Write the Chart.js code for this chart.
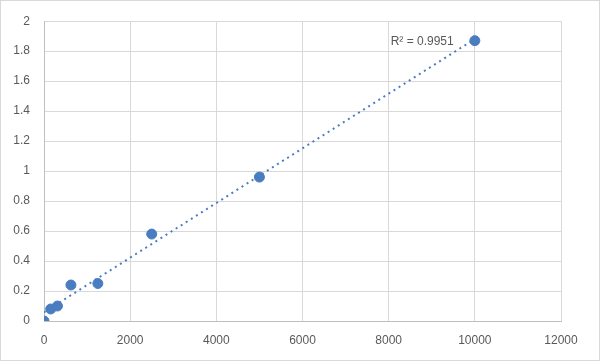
<!DOCTYPE html>
<html><head><meta charset="utf-8">
<script src="https://cdn.jsdelivr.net/npm/chart.js@4"></script>
<style>
html,body{margin:0;padding:0;background:#fff;}
#wrap{position:relative;width:600px;height:361px;box-sizing:border-box;border:1px solid #d9d9d9;}
canvas{position:absolute;left:-1px;top:-1px;}
</style></head>
<body><div id="wrap"><canvas id="c" width="600" height="361"></canvas></div>
<script>
const concentrations = [0, 156, 312, 625, 1250, 2500, 5000, 10000];
const odValues = [0, 0.08, 0.1, 0.24, 0.25, 0.58, 0.96, 1.87];
const xTicks = [0, 2000, 4000, 6000, 8000, 10000, 12000];
const yTicks = [0, 0.2, 0.4, 0.6, 0.8, 1, 1.2, 1.4, 1.6, 1.8, 2];
const r2Label = 'R² = 0.9951';

// least-squares trendline (as the spreadsheet's linear trendline)
const n = concentrations.length;
const mx = concentrations.reduce((a,b)=>a+b,0)/n;
const my = odValues.reduce((a,b)=>a+b,0)/n;
let sxy=0, sxx=0;
for(let i=0;i<n;i++){sxy+=(concentrations[i]-mx)*(odValues[i]-my);sxx+=(concentrations[i]-mx)**2;}
const slope=sxy/sxx, intercept=my-slope*mx;
const xMin = concentrations[0], xMax = concentrations[n-1];
const trend = [{x:xMin,y:intercept+slope*xMin},{x:xMax,y:intercept+slope*xMax}];

const gray='#595959';
const labelPlugin={
  id:'r2',
  afterDatasetsDraw(chart){
    const {ctx,scales}=chart;
    ctx.save();
    ctx.font='12px "Liberation Sans", Arial, sans-serif';
    ctx.fillStyle=gray;
    ctx.textBaseline='alphabetic';
    ctx.textAlign='left';
    ctx.fillText(r2Label, scales.x.getPixelForValue(8000)+2, scales.y.getPixelForValue(1.85)+1);
    ctx.restore();
  }
};

new Chart(document.getElementById('c'),{
  type:'scatter',
  data:{datasets:[
    {data:concentrations.map((x,i)=>({x,y:odValues[i]})),backgroundColor:'#4a7dc0',borderColor:'#4a7dc0',pointRadius:5,pointHoverRadius:5,order:1},
    {type:'line',data:trend,borderColor:'#4a7dc0',borderWidth:2,borderDash:[2,4],pointRadius:0,fill:false,order:2}
  ]},
  options:{
    responsive:false,animation:false,
    layout:{padding:{left:0,top:19,right:39,bottom:0}},
    plugins:{legend:{display:false},tooltip:{enabled:false}},
    scales:{
      x:{type:'linear',min:0,max:12000,
        afterBuildTicks(s){s.ticks=xTicks.map(v=>({value:v}));},
        afterFit(s){s.height=40;},
        grid:{color:'#d9d9d9',drawTicks:false},
        border:{color:'#bfbfbf'},
        ticks:{color:gray,font:{family:'"Liberation Sans", Arial, sans-serif',size:12},padding:12,maxRotation:0,
          callback:v=>String(v)}},
      y:{type:'linear',min:0,max:2,
        afterBuildTicks(s){s.ticks=yTicks.map(v=>({value:v}));},
        afterFit(s){s.width=44;},
        grid:{color:'#d9d9d9',drawTicks:false},
        border:{color:'#bfbfbf'},
        ticks:{color:gray,font:{family:'"Liberation Sans", Arial, sans-serif',size:12},padding:14,
          callback:v=>String(Math.round(v*10)/10)}}
    }
  },
  plugins:[labelPlugin]
});
</script></body></html>
